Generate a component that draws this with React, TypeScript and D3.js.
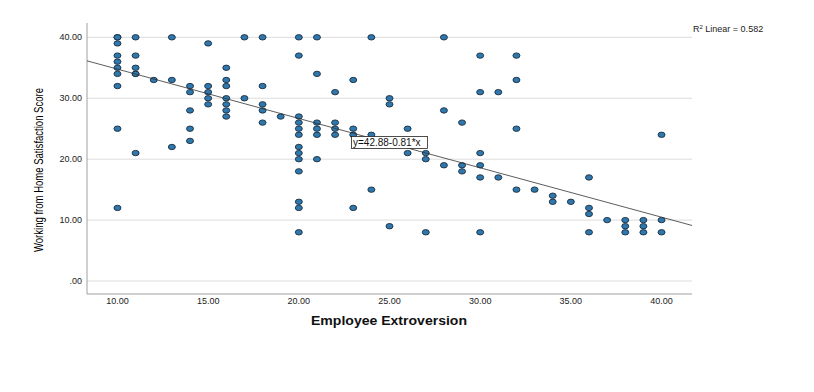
import React from "react";
import * as d3 from "d3";

const extroversion: number[] = [
  10, 10, 10, 10, 10, 10, 10, 10, 10, 10,
  11, 11, 11, 11, 11, 11,
  12,
  13, 13, 13,
  14, 14, 14, 14, 14,
  15, 15, 15, 15, 15,
  16, 16, 16, 16, 16, 16, 16,
  17, 17,
  18, 18, 18, 18, 18,
  19,
  20, 20, 20, 20, 20, 20, 20, 20, 20, 20, 20, 20, 20,
  21, 21, 21, 21, 21, 21,
  22, 22, 22, 22,
  23, 23, 23, 23,
  24, 24, 24,
  25, 25, 25,
  26, 26,
  27, 27, 27,
  28, 28, 28,
  29, 29, 29,
  30, 30, 30, 30, 30, 30,
  31, 31,
  32, 32, 32, 32,
  33,
  34, 34,
  35,
  36, 36, 36, 36,
  37,
  38, 38, 38,
  39, 39, 39,
  40, 40, 40,
];

const satisfaction: number[] = [
  40, 40, 39, 37, 36, 35, 34, 32, 25, 12,
  40, 37, 35, 34, 34, 21,
  33,
  40, 33, 22,
  32, 31, 28, 25, 23,
  39, 32, 31, 30, 29,
  35, 33, 32, 30, 29, 28, 27,
  40, 30,
  40, 32, 29, 28, 26,
  27,
  40, 37, 27, 26, 25, 24, 22, 21, 20, 18, 13, 12, 8,
  40, 34, 26, 25, 24, 20,
  31, 26, 25, 24,
  33, 25, 24, 12,
  40, 24, 15,
  30, 29, 9,
  25, 21,
  21, 20, 8,
  40, 28, 19,
  26, 19, 18,
  37, 31, 21, 19, 17, 8,
  31, 17,
  37, 33, 25, 15,
  15,
  14, 13,
  13,
  17, 12, 11, 8,
  10,
  10, 9, 8,
  10, 9, 8,
  24, 10, 8,
];

const xTicks: number[] = [10, 15, 20, 25, 30, 35, 40];
const yTicks: number[] = [0, 10, 20, 30, 40];
const intercept = 42.88;
const slope = -0.81;
const r2 = 0.582;

const W = 814;
const H = 392;
const L = 87;
const R = 692;
const T = 23;
const B = 294;

export default function App() {
  const x = d3.scaleLinear().domain([8.32, 41.68]).range([L, R]);
  const y = d3.scaleLinear().domain([-2.13, 42.35]).range([B, T]);
  const fmt = d3.format(".2f");
  const yFmt = (v: number) => (v === 0 ? ".00" : fmt(v));
  const [x0, x1] = x.domain();
  const font = "'Liberation Sans', Arial, sans-serif";

  return (
    <svg
      width={W}
      height={H}
      style={{ position: "absolute", left: 0, top: 0, background: "#fff" }}
    >
      <rect x={0} y={0} width={W} height={H} fill="#fff" />
      {yTicks.map((t) => (
        <line
          key={"g" + t}
          x1={L}
          x2={R}
          y1={y(t)}
          y2={y(t)}
          stroke="#dcdcdc"
          strokeWidth={1}
        />
      ))}
      <line x1={L} x2={L} y1={T} y2={B} stroke="#a0a0a0" strokeWidth={1} />
      <line x1={L} x2={R} y1={B} y2={B} stroke="#a0a0a0" strokeWidth={1} />
      {yTicks.map((t) => (
        <text
          key={"yl" + t}
          x={82}
          y={y(t)}
          dy="0.35em"
          textAnchor="end"
          fontFamily={font}
          fontSize={9}
          fill="#222"
        >
          {yFmt(t)}
        </text>
      ))}
      {xTicks.map((t) => (
        <text
          key={"xl" + t}
          x={x(t)}
          y={304}
          textAnchor="middle"
          fontFamily={font}
          fontSize={9}
          fill="#222"
        >
          {fmt(t)}
        </text>
      ))}
      <text
        x={389}
        y={325}
        textAnchor="middle"
        fontFamily={font}
        fontSize={13.5}
        fontWeight="bold"
        textLength={156}
        lengthAdjust="spacingAndGlyphs"
        fill="#111"
      >
        Employee Extroversion
      </text>
      <text
        transform={`translate(43,170) rotate(-90)`}
        textAnchor="middle"
        fontFamily={font}
        fontSize={12.5}
        textLength={164}
        lengthAdjust="spacingAndGlyphs"
        fill="#000"
      >
        Working from Home Satisfaction Score
      </text>
      {extroversion.map((xv, i) => (
        <ellipse
          key={"p" + i}
          cx={x(xv)}
          cy={y(satisfaction[i])}
          rx={3.5}
          ry={2.7}
          fill="#2f78ad"
          stroke="#1a2c40"
          strokeWidth={0.9}
        />
      ))}
      <line
        x1={x(x0)}
        y1={y(intercept + slope * x0)}
        x2={x(x1)}
        y2={y(intercept + slope * x1)}
        stroke="#333"
        strokeWidth={0.8}
      />
      <rect
        x={351.5}
        y={136.5}
        width={76}
        height={12}
        fill="#fff"
        stroke="#222"
        strokeWidth={0.8}
      />
      <text
        x={353}
        y={146}
        fontFamily={font}
        fontSize={10}
        fill="#111"
      >
        {`y=${intercept.toFixed(2)}${slope.toFixed(2)}*x`}
      </text>
      <text x={693} y={32} fontFamily={font} fontSize={9} fill="#222">
        R
        <tspan dy={-3} fontSize={6}>
          2
        </tspan>
        <tspan dy={3}>{` Linear = ${r2.toFixed(3)}`}</tspan>
      </text>
    </svg>
  );
}
